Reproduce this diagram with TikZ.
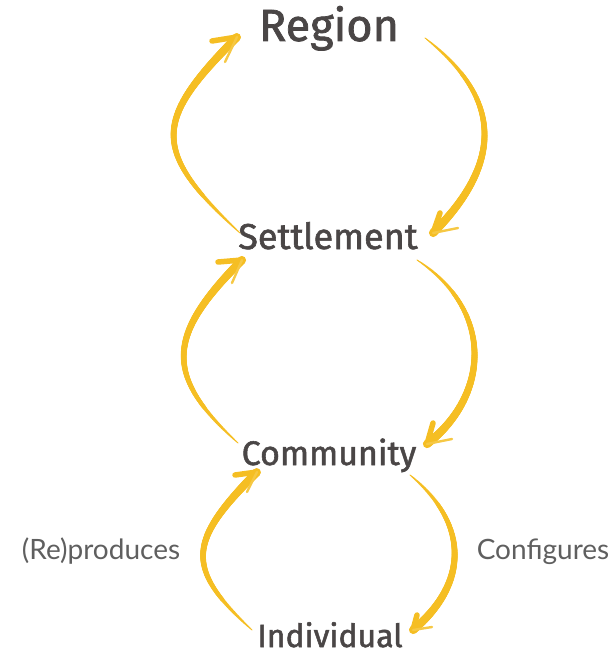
\documentclass[tikz,border=0pt]{standalone}
\usepackage{fontspec}
\usetikzlibrary{decorations.markings}
\newfontfamily\headfont{Fira Sans}[FakeBold=1.6]
\newfontfamily\labelfont{Lato}
\definecolor{brushyellow}{RGB}{245,190,35}
\definecolor{ink}{RGB}{74,70,70}
\definecolor{labelgray}{RGB}{95,95,95}

\tikzset{
  level/.style={text=ink, inner sep=0pt, anchor=base, font=\headfont},
  verb/.style={text=labelgray, inner sep=0pt, anchor=base,
    font=\labelfont\fontsize{28}{32}\selectfont},
  % tapered brush stroke: thin at the tail, wide towards the head
  brush/.style={draw=brushyellow, line width=0.6pt, line cap=round,
    postaction={decorate},
    decoration={markings,
      mark=between positions 0 and 1 step 0.6pt with {%
        \pgfmathsetmacro{\rr}{0.3+3.9*(0.002+\pgfkeysvalueof{/pgf/decoration/mark info/distance from start}/\pgfdecoratedpathlength)^0.55}%
        \fill[brushyellow] (0,0) circle[radius=\rr pt];}}},
  barb/.style={draw=brushyellow, line width=5.5pt, line cap=round, line join=round},
  thinbarb/.style={draw=brushyellow!85, line width=2.4pt, line cap=round},
}

\begin{document}
\begin{tikzpicture}[x=1pt, y=-1pt]
\useasboundingbox (0,0) rectangle (614,655);

% levels
\node[level, font=\headfont\fontsize{45}{50}\selectfont] (reg) at (329,41) {Region};
\node[level, font=\headfont\fontsize{36}{42}\selectfont] (set) at (328,249) {Settlement};
\node[level, font=\headfont\fontsize{34}{40}\selectfont] (com) at (329,465) {Community};
\node[level, font=\headfont\fontsize{32}{38}\selectfont] (ind) at (330,647) {Individual};

% relations
\node[verb] (rep) at (101,559) {(Re)produces};
\node[verb] (cfg) at (543,559) {Configures};

% end points of the arrows
\coordinate (l1t) at (240,233); \coordinate (l1h) at (237,37);
\coordinate (l1a) at (212,41);  \coordinate (l1b) at (225,62);
\coordinate (r1t) at (425,38);  \coordinate (r1h) at (433,233);
\coordinate (r1a) at (440,213); \coordinate (r1b) at (458,228);
\coordinate (l2t) at (238,443); \coordinate (l2h) at (242,260);
\coordinate (l2a) at (218,262); \coordinate (l2b) at (232,283);
\coordinate (r2t) at (417,260); \coordinate (r2h) at (427,444);
\coordinate (r2a) at (433,423); \coordinate (r2b) at (452,439);
\coordinate (l3t) at (252,630); \coordinate (l3h) at (257,472);
\coordinate (l3a) at (235,475); \coordinate (l3b) at (247,492);
\coordinate (r3t) at (410,475); \coordinate (r3h) at (413,630);
\coordinate (r3a) at (417,615); \coordinate (r3b) at (432,627);

% upward arrows (left)
\draw[brush] (l1t) .. controls (150,150) and (154,120) .. (l1h);
\draw[barb] (l1a) -- (l1h); \draw[thinbarb] (l1h) -- (l1b);
\draw[brush] (l2t) .. controls (163,375) and (167,335) .. (l2h);
\draw[barb] (l2a) -- (l2h); \draw[thinbarb] (l2h) -- (l2b);
\draw[brush] (l3t) .. controls (184,568) and (188,541) .. (l3h);
\draw[barb] (l3a) -- (l3h); \draw[thinbarb] (l3h) -- (l3b);

% downward arrows (right)
\draw[brush] (r1t) .. controls (505,100) and (501,165) .. (r1h);
\draw[barb] (r1a) -- (r1h); \draw[thinbarb] (r1h) -- (r1b);
\draw[brush] (r2t) .. controls (494,310) and (490,395) .. (r2h);
\draw[barb] (r2a) -- (r2h); \draw[thinbarb] (r2h) -- (r2b);
\draw[brush] (r3t) .. controls (471,525) and (467,585) .. (r3h);
\draw[barb] (r3a) -- (r3h); \draw[thinbarb] (r3h) -- (r3b);
\end{tikzpicture}
\end{document}
